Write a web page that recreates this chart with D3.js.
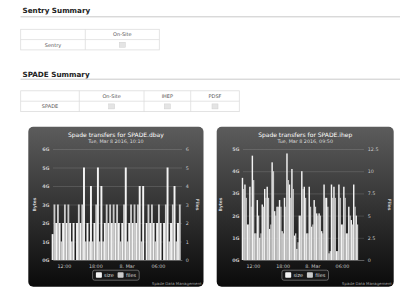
<!DOCTYPE html>
<html>
<head>
<meta charset="utf-8">
<script src="https://cdn.jsdelivr.net/npm/d3@7"></script>
<style>
  body { margin: 0; background: #fff; }
  svg { display: block; font-family: "DejaVu Sans", Verdana, sans-serif; }
</style>
</head>
<body>
<svg id="page" width="400" height="292"></svg>
<script>
// ---- summary tables ----
const sentryColumns = ["On-Site"];
const sentryRows = ["Sentry"];
const spadeColumns = ["On-Site", "IHEP", "PDSF"];
const spadeRows = ["SPADE"];

// ---- chart data ----
const xTickTimes = ["2016-03-07T12:00", "2016-03-07T18:00", "2016-03-08T00:00", "2016-03-08T06:00"];
const xTickLabels = ["12:00", "18:00", "8. Mar", "06:00"];
const legendLabels = ["size", "files"];

const dbayTitle = "Spade transfers for SPADE.dbay";
const dbaySubtitle = "Tue, Mar 8 2016, 10:10";
const dbayStart = "2016-03-07T10:00";
const dbayStepMinutes = 40;
const dbaySizeG = [1.4, 2, 2, 2, 2, 2, 2, 2, 2, 5, 2, 4, 2, 5, 4, 2, 2, 2, 2, 2, 2, 5, 2, 2, 2, 4, 4, 2, 2, 2, 2, 2, 2, 5, 2, 4, 2];
const dbayFiles = [3, 3, 1, 3, 3, 1, 0, 3, 3, 1, 1, 1, 3, 1, 1, 3, 3, 3, 3, 1, 3, 1, 3, 3, 3, 1, 0, 3, 3, 1, 3, 0, 3, 1, 3, 1, 3];
const dbayBytesTicks = [0, 1, 2, 3, 4, 5, 6];
const dbayFilesTicks = [0, 1, 2, 3, 4, 5, 6];

const ihepTitle = "Spade transfers for SPADE.ihep";
const ihepSubtitle = "Tue, Mar 8 2016, 09:50";
const ihepStart = "2016-03-07T10:00";
const ihepStepMinutes = 30;
const ihepSizeG = [3.7, 3.4, 1.6, 3.3, 4.7, 1.2, 2.7, 1.0, 2.5, 3.2, 3.3, 1.4, 4.4, 2.2, 2.4, 2.7, 1.3, 2.8, 4.8, 3.4, 4.1, 1.1, 0.5, 2.0, 4.0, 3.3, 1.2, 3.3, 1.5, 2.7, 2.1, 2.1, 1.3, 3.4, 2.8, 0.3, 3.4, 3.3, 0.4, 3.4, 1.6, 3.3, 1.2, 2.4, 1.8, 3.4, 2.0];
const ihepFiles = [8, 7, 4, 6, 9, 3, 5, 3, 6, 7, 7, 4, 10, 5, 6, 6, 3, 6, 9, 7, 8, 3, 2, 5, 8, 7, 3, 6, 4, 6, 5, 5, 3, 7, 6, 1, 7, 7, 1, 7, 4, 7, 3, 5, 4, 6, 4];
const ihepBytesTicks = [0, 1, 2, 3, 4, 5];
const ihepFilesTicks = [0, 2.5, 5, 7.5, 10, 12.5];

const parseTime = d3.utcParse("%Y-%m-%dT%H:%M");
const svg = d3.select("#page");

// ---------- headings + tables ----------
function heading(text, y, lineY) {
  svg.append("text").attr("x", 22.5).attr("y", y)
    .attr("font-size", 7.2).attr("font-weight", "bold").attr("fill", "#222")
    .text(text);
  svg.append("line").attr("x1", 20.5).attr("x2", 400).attr("y1", lineY).attr("y2", lineY)
    .attr("stroke", "#bbb").attr("stroke-width", 0.8);
}

function table(columns, rows, edges, y0, rowH) {
  const g = svg.append("g");
  const nRows = rows.length + 1;
  g.append("rect").attr("x", edges[0]).attr("y", y0)
    .attr("width", edges[edges.length - 1] - edges[0]).attr("height", rowH * nRows)
    .attr("fill", "#fff").attr("stroke", "#ddd").attr("stroke-width", 0.8);
  for (let r = 1; r < nRows; r++) {
    g.append("line").attr("x1", edges[0]).attr("x2", edges[edges.length - 1])
      .attr("y1", y0 + r * rowH).attr("y2", y0 + r * rowH).attr("stroke", "#ddd").attr("stroke-width", 0.8);
  }
  edges.slice(1, -1).forEach(x => {
    g.append("line").attr("x1", x).attr("x2", x).attr("y1", y0).attr("y2", y0 + rowH * nRows)
      .attr("stroke", "#ddd").attr("stroke-width", 0.8);
  });
  const mid = i => (edges[i] + edges[i + 1]) / 2;
  columns.forEach((c, i) => {
    g.append("text").attr("x", mid(i + 1)).attr("y", y0 + rowH / 2 + 1.8)
      .attr("text-anchor", "middle").attr("font-size", 5).attr("fill", "#555").text(c);
  });
  rows.forEach((r, ri) => {
    const cy = y0 + rowH * (ri + 1) + rowH / 2;
    g.append("text").attr("x", mid(0)).attr("y", cy + 1.8)
      .attr("text-anchor", "middle").attr("font-size", 5).attr("fill", "#555").text(r);
    columns.forEach((c, i) => {
      g.append("rect").attr("x", mid(i + 1) - 3).attr("y", cy - 2.5).attr("width", 6).attr("height", 5)
        .attr("fill", "#e4e4e4").attr("stroke", "#cfcfcf").attr("stroke-width", 0.5);
    });
  });
}

heading("Sentry Summary", 13.3, 16.8);
table(sentryColumns, sentryRows, [20.7, 85.3, 159.3], 29.3, 10.3);
heading("SPADE Summary", 76.5, 79.2);
table(spadeColumns, spadeRows, [20.7, 79.3, 144, 190.7, 239.3], 90.8, 10.4);

// ---------- charts ----------
const defs = svg.append("defs");
const grad = defs.append("linearGradient").attr("id", "panelGrad")
  .attr("x1", 0).attr("y1", 0).attr("x2", 0).attr("y2", 1);
grad.append("stop").attr("offset", "0%").attr("stop-color", "rgb(92,92,92)");
grad.append("stop").attr("offset", "100%").attr("stop-color", "rgb(10,10,10)");

const sizeColor = "#f4f4f4";
const filesColor = "#cbcbcb";

function drawChart(cfg) {
  const g = svg.append("g");
  const top = 149, bottom = 260;
  const cx = (cfg.panelL + cfg.panelR) / 2;

  g.append("rect").attr("x", cfg.panelL).attr("y", 126.7)
    .attr("width", cfg.panelR - cfg.panelL).attr("height", 160)
    .attr("rx", 5).attr("fill", "url(#panelGrad)");

  g.append("text").attr("x", cx).attr("y", 137.3).attr("text-anchor", "middle")
    .attr("font-size", 6).attr("fill", "#fff").text(cfg.title);
  g.append("text").attr("x", cx).attr("y", 142.9).attr("text-anchor", "middle")
    .attr("font-size", 4.8).attr("fill", "#ddd").text(cfg.subtitle);

  const x = d3.scaleUtc().domain([parseTime(cfg.domain[0]), parseTime(cfg.domain[1])])
    .range([cfg.plotL, cfg.plotR]);
  const yBytes = d3.scaleLinear().domain([0, d3.max(cfg.bytesTicks)]).range([bottom, top]);
  const yFiles = d3.scaleLinear().domain([0, d3.max(cfg.filesTicks)]).range([bottom, top]);

  // grid + left labels
  const left = g.append("g").attr("transform", `translate(${cfg.plotL},0)`)
    .call(d3.axisLeft(yBytes).tickValues(cfg.bytesTicks).tickFormat(d => d + "G")
      .tickSize(-(cfg.plotR - cfg.plotL)).tickPadding(3.5));
  left.select(".domain").remove();
  left.selectAll("line").attr("stroke", "rgba(255,255,255,0.22)").attr("stroke-width", 0.6);
  left.selectAll("text").attr("font-size", 4.8).attr("font-weight", "bold").attr("fill", "#c8c8c8")
    .attr("font-family", "DejaVu Sans");

  const right = g.append("g").attr("transform", `translate(${cfg.plotR},0)`)
    .call(d3.axisRight(yFiles).tickValues(cfg.filesTicks).tickFormat(d => String(d))
      .tickSize(0).tickPadding(3.8));
  right.select(".domain").remove();
  right.selectAll("text").attr("font-size", 4.8).attr("fill", "#c8c8c8").attr("font-family", "DejaVu Sans");

  // bars (size left, files right in each group; slight overlap hides seams)
  const start = parseTime(cfg.start);
  const step = cfg.stepMinutes * 60000;
  const spacing = x(new Date(start.getTime() + step)) - x(start);
  const bw = spacing * 0.5;
  const pts = cfg.size.map((s, i) => ({ t: new Date(start.getTime() + i * step), size: s, files: cfg.files[i] }));

  g.append("g").selectAll("rect").data(pts).enter().append("rect")
    .attr("x", d => x(d.t) - bw - 0.1).attr("width", bw + 0.2)
    .attr("y", d => yBytes(d.size)).attr("height", d => bottom - yBytes(d.size))
    .attr("fill", sizeColor);
  g.append("g").selectAll("rect").data(pts).enter().append("rect")
    .attr("x", d => x(d.t)).attr("width", bw + 0.1)
    .attr("y", d => yFiles(d.files)).attr("height", d => bottom - yFiles(d.files))
    .attr("fill", filesColor);

  // x axis
  const xAxis = g.append("g").attr("transform", `translate(0,${bottom})`)
    .call(d3.axisBottom(x).tickValues(xTickTimes.map(parseTime))
      .tickFormat((d, i) => xTickLabels[i]).tickSize(0).tickPadding(4.2));
  xAxis.select(".domain").attr("stroke", "rgba(255,255,255,0.35)").attr("stroke-width", 0.6);
  xAxis.selectAll("text").attr("font-size", 4.8).attr("fill", "#c8c8c8").attr("font-family", "DejaVu Sans");

  // axis titles
  const my = (top + bottom) / 2;
  g.append("text").attr("transform", `translate(${cfg.bytesTitleX},${my}) rotate(-90)`)
    .attr("text-anchor", "middle").attr("font-size", 4.4).attr("font-weight", "bold")
    .attr("fill", "#ccc").text("Bytes");
  g.append("text").attr("transform", `translate(${cfg.filesTitleX},${my}) rotate(90)`)
    .attr("text-anchor", "middle").attr("font-size", 4.4).attr("font-weight", "bold")
    .attr("fill", "#ccc").text("Files");

  // legend
  const lg = g.append("g").attr("transform", `translate(${cx},0)`);
  lg.append("rect").attr("x", -23.3).attr("y", 270.2).attr("width", 46.6).attr("height", 10)
    .attr("rx", 2).attr("fill", "rgba(30,30,30,0.6)").attr("stroke", "#9a9a9a").attr("stroke-width", 0.6);
  const swatchX = [-20, 1.7];
  const labelX = [-11.8, 10];
  const colors = [sizeColor, filesColor];
  legendLabels.forEach((lab, i) => {
    lg.append("rect").attr("x", swatchX[i]).attr("y", 272.3).attr("width", 6).attr("height", 5.4)
      .attr("rx", 0.8).attr("fill", colors[i]);
    lg.append("text").attr("x", labelX[i]).attr("y", 277.3).attr("font-size", 5)
      .attr("fill", "#ddd").text(lab);
  });

  // credits
  g.append("text").attr("x", cfg.panelR - 2).attr("y", 285).attr("text-anchor", "end")
    .attr("font-size", 3.9).attr("fill", "#a0a0a0").text("Spade Data Management");
}

drawChart({
  panelL: 28.3, panelR: 203.5, plotL: 53, plotR: 182,
  domain: ["2016-03-07T09:54", "2016-03-08T10:36"],
  title: dbayTitle, subtitle: dbaySubtitle,
  start: dbayStart, stepMinutes: dbayStepMinutes,
  size: dbaySizeG, files: dbayFiles,
  bytesTicks: dbayBytesTicks, filesTicks: dbayFilesTicks,
  bytesTitleX: 35.5, filesTitleX: 195.5
});

drawChart({
  panelL: 216.7, panelR: 393.7, plotL: 243, plotR: 364,
  domain: ["2016-03-07T09:59", "2016-03-08T10:27"],
  title: ihepTitle, subtitle: ihepSubtitle,
  start: ihepStart, stepMinutes: ihepStepMinutes,
  size: ihepSizeG, files: ihepFiles,
  bytesTicks: ihepBytesTicks, filesTicks: ihepFilesTicks,
  bytesTitleX: 221.5, filesTitleX: 387.5
});
</script>
</body>
</html>
